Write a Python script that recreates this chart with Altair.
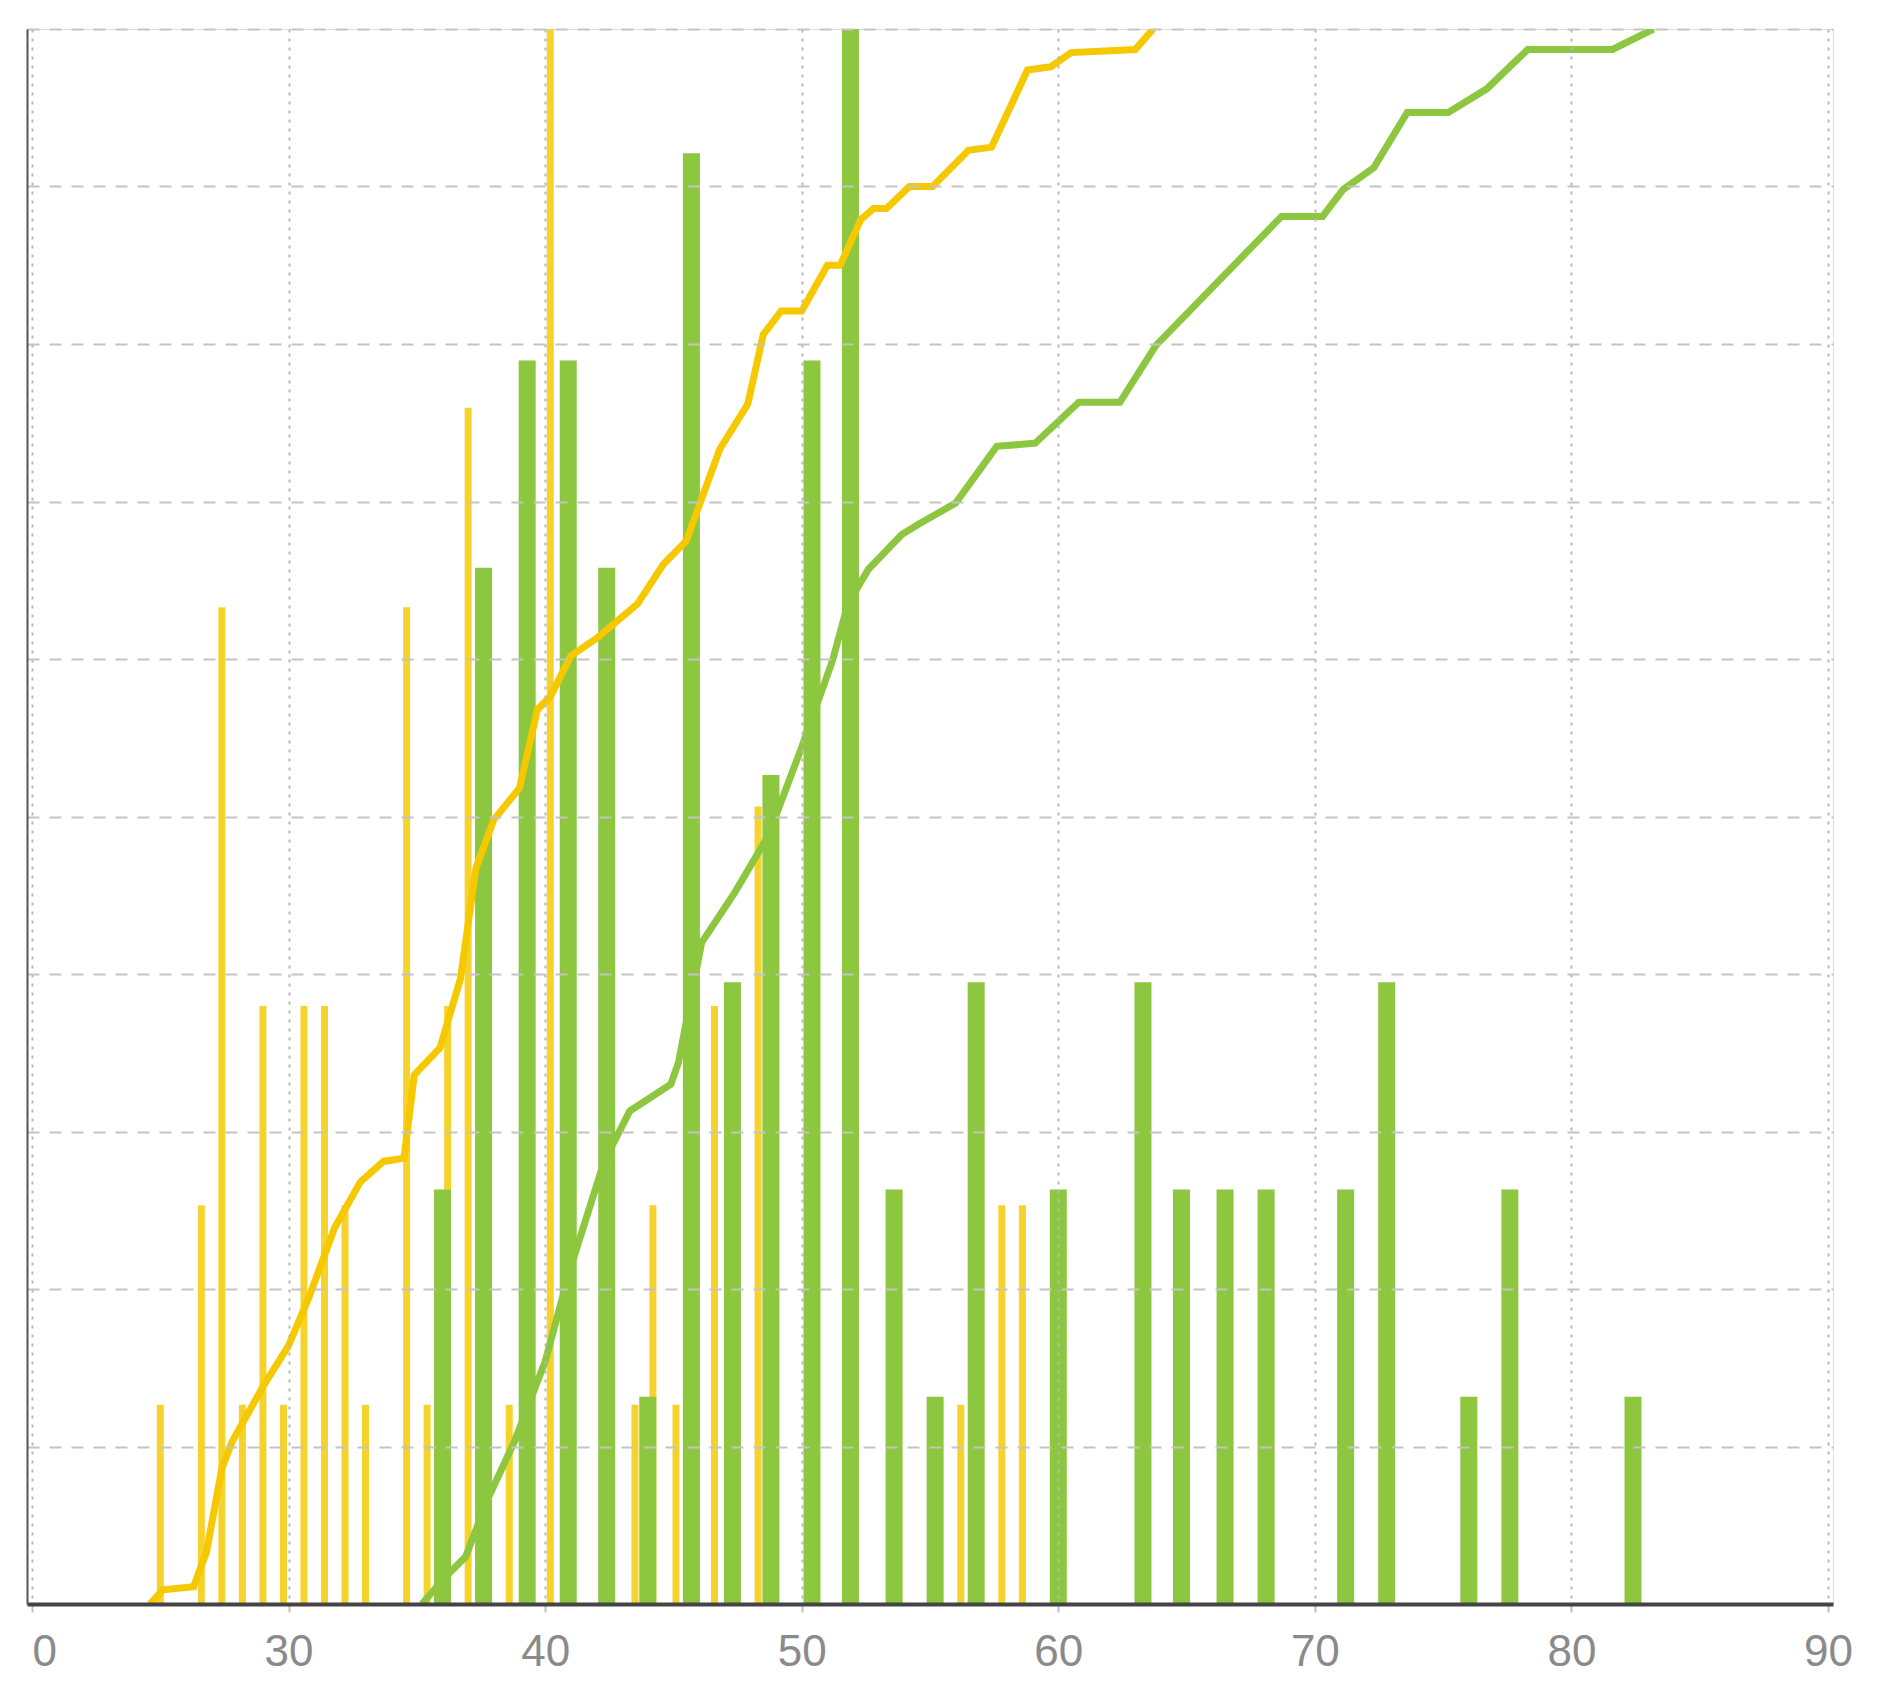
import altair as alt
import pandas as pd

# Histogram bins (bin centre on x axis) and counts
yellow_x = [25.0, 26.6, 27.4, 28.2, 29.0, 29.8, 30.6, 31.4, 32.2, 33.0, 34.6, 35.4,
            36.2, 37.0, 38.6, 40.2, 43.5, 44.2, 45.1, 46.6, 48.3, 56.2, 57.8, 58.6]
yellow_n = [1, 2, 5, 1, 3, 1, 3, 3, 2, 1, 5, 1, 3, 6, 1, 8, 1, 2, 1, 3, 4, 1, 2, 2]

green_x = [36.0, 37.6, 39.3, 40.9, 42.4, 44.0, 45.7, 47.3, 48.8, 50.4, 51.9, 53.6,
           55.2, 56.8, 60.0, 63.3, 64.8, 66.5, 68.1, 71.2, 72.8, 76.0, 77.6, 82.4]
green_n = [2, 5, 6, 6, 5, 1, 7, 3, 4, 6, 8, 2, 1, 3, 2, 3, 2, 2, 2, 2, 3, 1, 2, 1]

# Cumulative curves (percent)
yellow_cx = [24.6, 25.1, 26.3, 26.8, 27.4, 27.8, 29.0, 30.0, 30.8, 31.8, 32.8, 33.7, 34.5,
             34.9, 35.9, 36.7, 37.3, 38.0, 39.0, 39.7, 40.2, 41.0, 42.0, 43.6, 44.6, 45.5,
             46.8, 47.9, 48.5, 49.2, 50.0, 51.0, 51.5, 52.3, 52.8, 53.3, 54.2, 55.1, 56.5,
             57.4, 58.8, 59.7, 60.5, 63.0, 63.7]
yellow_cp = [0, 0.9, 1.1, 3.3, 8.6, 10.3, 13.8, 16.4, 19.5, 23.9, 26.8, 28.1, 28.3,
             33.6, 35.3, 39.7, 46.7, 49.8, 51.8, 56.8, 57.6, 60.2, 61.3, 63.5, 66.0, 67.5,
             73.3, 76.2, 80.6, 82.1, 82.1, 85.0, 85.0, 87.9, 88.6, 88.6, 90.0, 90.0, 92.3,
             92.5, 97.4, 97.6, 98.5, 98.7, 100]

green_cx = [35.2, 36.1, 36.9, 37.8, 38.8, 40.0, 41.0, 42.3, 43.3, 44.9, 45.2, 46.1, 47.4,
            48.7, 50.0, 51.2, 51.8, 52.6, 53.9, 54.6, 56.0, 57.6, 59.1, 60.8, 62.4, 63.8,
            68.7, 70.3, 71.1, 72.3, 73.6, 75.2, 76.7, 78.3, 81.6, 83.2]
green_cp = [0, 1.7, 3.0, 6.8, 10.3, 15.4, 21.4, 28.1, 31.3, 33.0, 34.4, 42.0, 45.2,
            48.8, 54.4, 59.9, 63.5, 65.7, 67.9, 68.6, 69.9, 73.5, 73.7, 76.3, 76.3, 79.9,
            88.1, 88.1, 89.8, 91.2, 94.7, 94.7, 96.2, 98.7, 98.7, 100]

x_ticks = [20, 30, 40, 50, 60, 70, 80, 90]
y_grid = [0, 10, 20, 30, 40, 50, 60, 70, 80, 90, 100]

YELLOW_BAR = "#F6D22C"
YELLOW_LINE = "#F5C800"
GREEN = "#8DC63F"

bars_y = pd.DataFrame({"x": yellow_x, "n": yellow_n})
bars_g = pd.DataFrame({"x": green_x, "n": green_n})
cum_y = pd.DataFrame({"x": yellow_cx, "p": yellow_cp})
cum_g = pd.DataFrame({"x": green_cx, "p": green_cp})

xscale = alt.Scale(domain=[20, 90], nice=False, zero=False)
xaxis = alt.Axis(
    values=x_ticks, title=None, grid=True, gridDash=[3, 6], gridColor="#b8b8b8",
    gridWidth=2, domainColor="#444444", domainWidth=4, tickColor="#c0c0c0",
    tickSize=8, tickWidth=2, labelFontSize=44, labelColor="#8a8a8a",
    labelFont="Liberation Sans", labelPadding=18,
    labelExpr="datum.value == 20 ? '0' : datum.label",
    labelAlign={"condition": {"test": "datum.value == 20", "value": "left"}, "value": "center"},
    zindex=1,
)
yellow_count_scale = alt.Scale(domain=[0, 7.9], nice=False)
green_count_scale = alt.Scale(domain=[0, 7.6], nice=False)
pct_scale = alt.Scale(domain=[0, 100], nice=False)
pct_axis = alt.Axis(
    orient="left", values=y_grid, title=None, labels=False, ticks=False,
    grid=True, gridDash=[12, 10], gridColor="#c4c4c4", gridWidth=2,
    domain=True, domainColor="#555555", domainWidth=2, zindex=1,
)

yb = alt.Chart(bars_y).mark_bar(size=7, color=YELLOW_BAR, clip=True).encode(
    x=alt.X("x:Q", scale=xscale, axis=xaxis),
    y=alt.Y("n:Q", scale=yellow_count_scale, axis=None),
)
gb = alt.Chart(bars_g).mark_bar(size=17, color=GREEN, clip=True).encode(
    x=alt.X("x:Q", scale=xscale, axis=xaxis),
    y=alt.Y("n:Q", scale=green_count_scale, axis=None),
)
yl = alt.Chart(cum_y).mark_line(color=YELLOW_LINE, strokeWidth=7, clip=True).encode(
    x=alt.X("x:Q", scale=xscale, axis=xaxis),
    y=alt.Y("p:Q", scale=pct_scale, axis=pct_axis),
)
gl = alt.Chart(cum_g).mark_line(color=GREEN, strokeWidth=7, clip=True).encode(
    x=alt.X("x:Q", scale=xscale, axis=xaxis),
    y=alt.Y("p:Q", scale=pct_scale, axis=None),
)

chart = alt.layer(yb, gb, yl, gl).resolve_scale(y="independent").properties(
    width=1806, height=1575,
    padding={"left": 19, "top": 21, "right": 0, "bottom": 0},
).configure_view(stroke=None).configure(background="white")

chart.save("out.html", embed_options={"renderer": "svg", "actions": False})
